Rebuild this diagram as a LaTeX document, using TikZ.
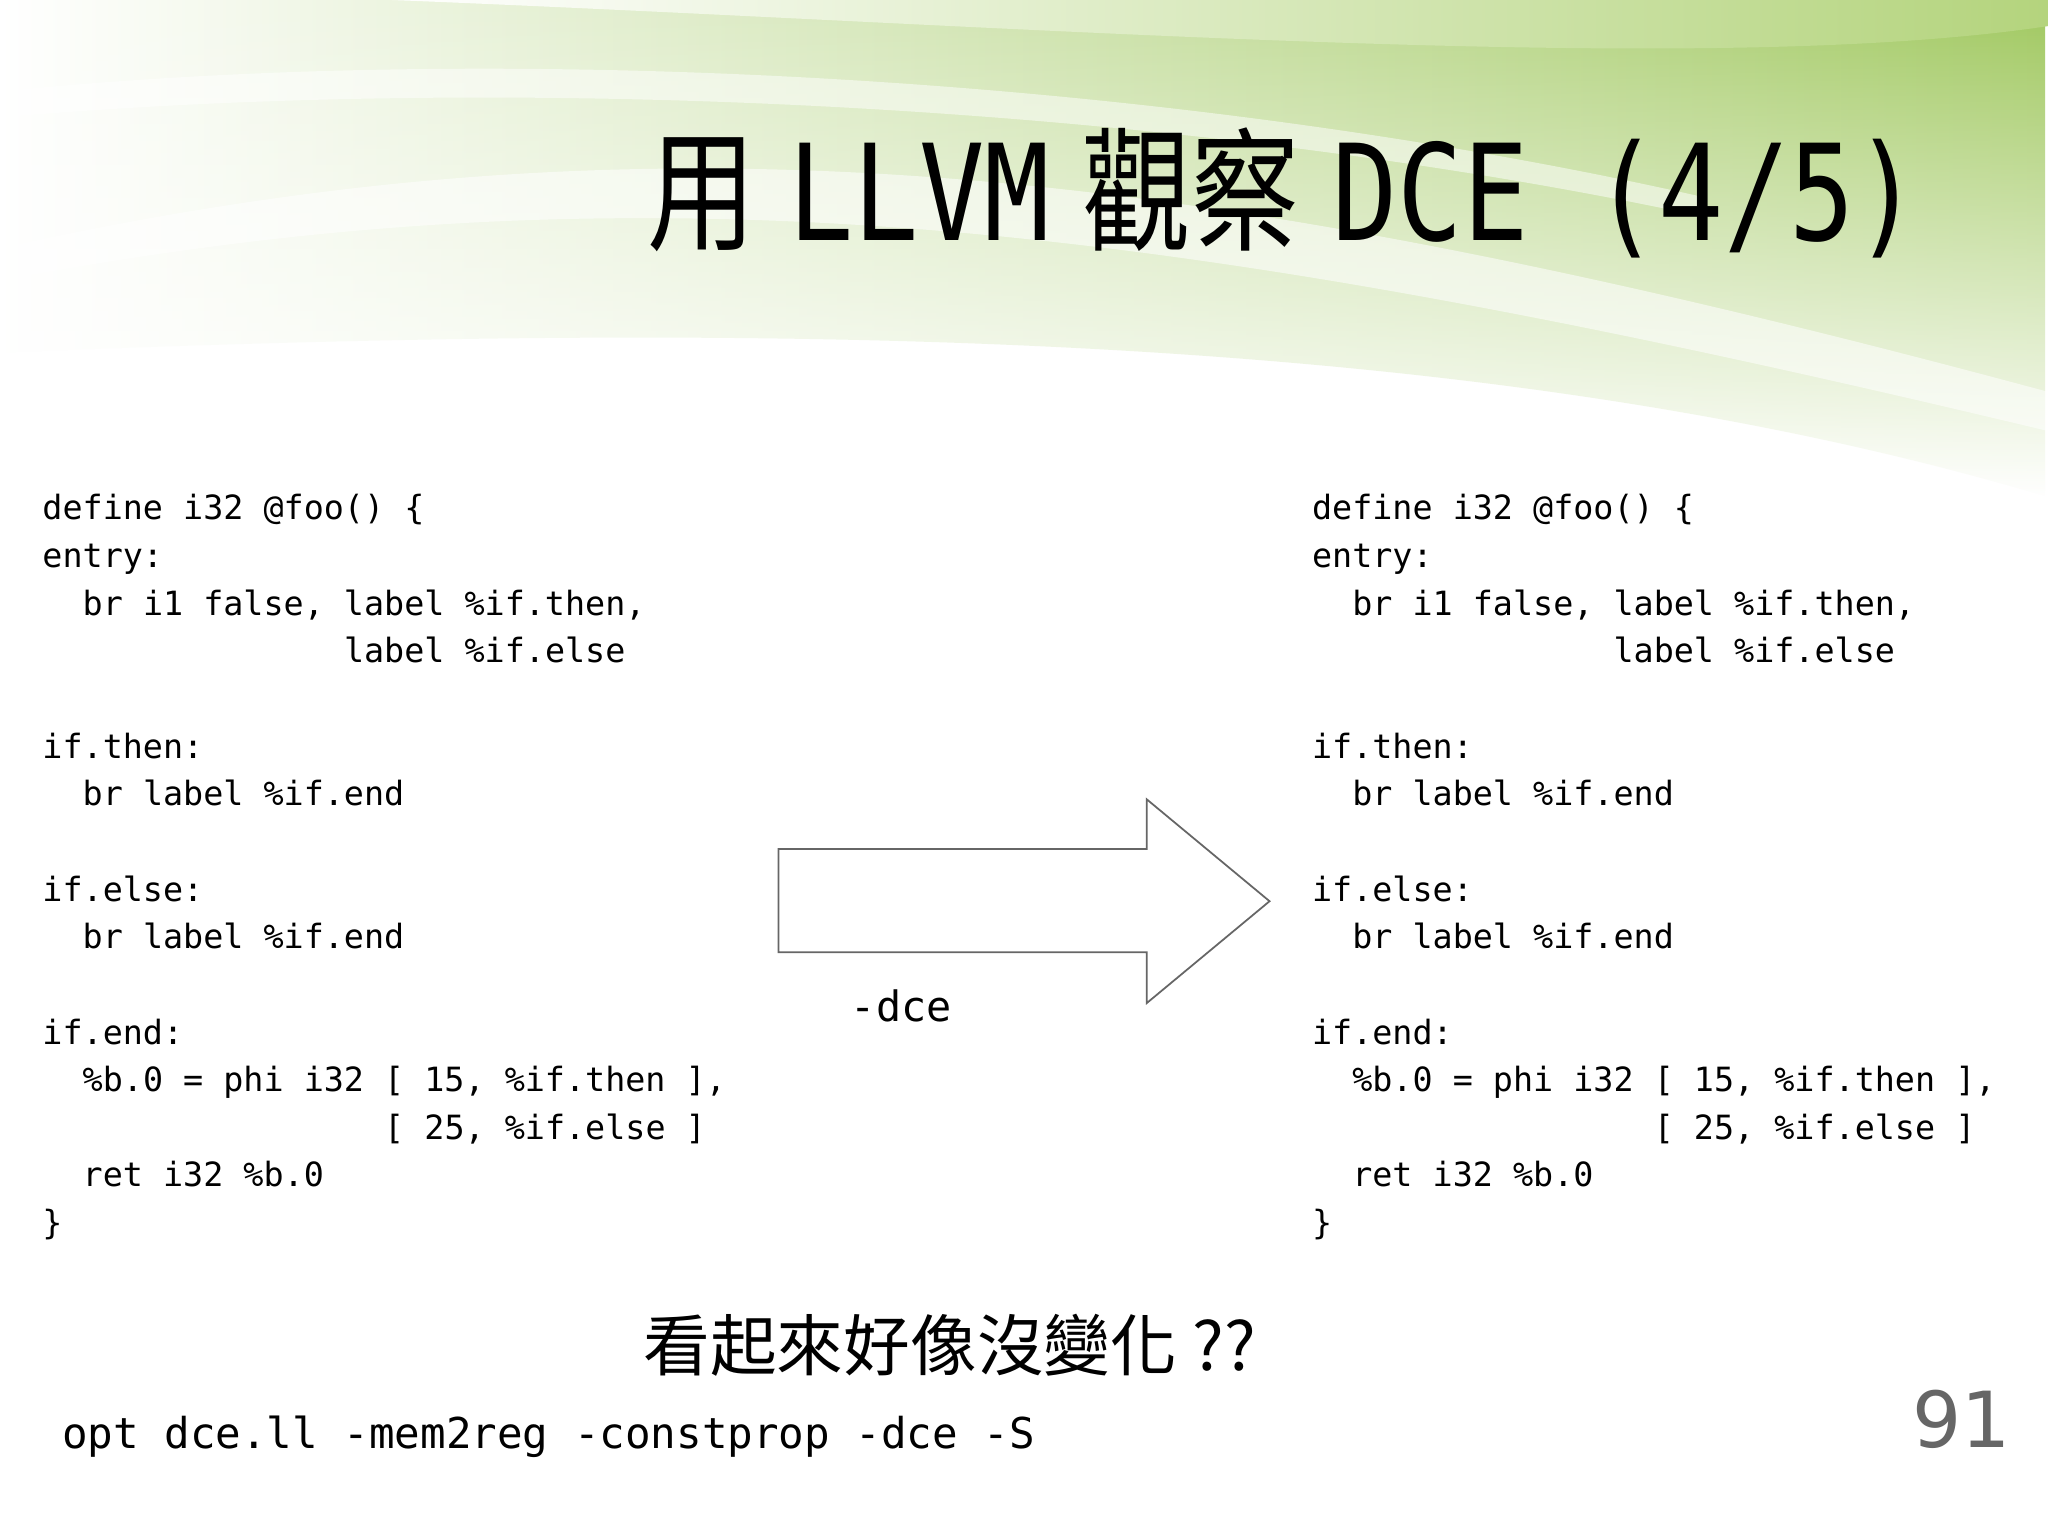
\documentclass[tikz,border=0pt]{standalone}
\usepackage{fontspec}
\usepackage{graphicx}
\setmonofont{DejaVu Sans Mono}
\newfontfamily\cjk{Noto Sans CJK TC}
\newfontfamily\dvs{DejaVu Sans}
\usetikzlibrary{fadings}
\begin{document}
\begin{tikzpicture}[x=0.013061cm,y=-0.013061cm,
  code/.style={anchor=north west,align=left,inner sep=0pt,font=\ttfamily\fontsize{9.5}{13.56}\selectfont},
  blockarrow/.style={draw=black!60,line width=0.5pt,fill=white}]
\useasboundingbox (0,0) rectangle (1568,1176);
\fill[white] (0,0) rectangle (1568,1176);
% green swoosh background
\shade[left color=white, right color={rgb,255:red,160;green,200;blue,95}, path fading=south]
  (0,0) -- (1568,0) -- (1568,380) .. controls (1100,240) and (500,250) .. (0,270) -- cycle;
\shade[left color=white, right color={rgb,255:red,180;green,212;blue,125}]
  (300,0) .. controls (800,20) and (1300,60) .. (1568,20) -- (1568,0) -- cycle;
\fill[white,opacity=0.55]
  (0,190) .. controls (500,80) and (900,120) .. (1568,300) -- (1568,330) .. controls (900,170) and (500,120) .. (0,215) -- cycle;
\fill[white,opacity=0.5]
  (0,70) .. controls (400,30) and (900,60) .. (1300,150) -- (1300,165) .. controls (900,80) and (400,55) .. (0,90) -- cycle;
% title
\node[anchor=south west,inner sep=0pt,font=\fontsize{38}{40}\selectfont] (title) at (495,198)
  {\resizebox{12.73cm}{\height}{{\cjk 用} {\ttfamily LLVM} {\cjk 觀察} {\ttfamily DCE (4/5)}}};
% code blocks
\node[code] (left) at (32,378) {define~i32~@foo()~\{\\
entry:\\
~~br~i1~false,~label~\%if.then,\\
~~~~~~~~~~~~~~~label~\%if.else\\
~\\
if.then:\\
~~br~label~\%if.end\\
~\\
if.else:\\
~~br~label~\%if.end\\
~\\
if.end:\\
~~\%b.0~=~phi~i32~[~15,~\%if.then~],\\
~~~~~~~~~~~~~~~~~[~25,~\%if.else~]\\
~~ret~i32~\%b.0\\
\}};
\node[code] (right) at (1004,378) {define~i32~@foo()~\{\\
entry:\\
~~br~i1~false,~label~\%if.then,\\
~~~~~~~~~~~~~~~label~\%if.else\\
~\\
if.then:\\
~~br~label~\%if.end\\
~\\
if.else:\\
~~br~label~\%if.end\\
~\\
if.end:\\
~~\%b.0~=~phi~i32~[~15,~\%if.then~],\\
~~~~~~~~~~~~~~~~~[~25,~\%if.else~]\\
~~ret~i32~\%b.0\\
\}};
% block arrow
\draw[blockarrow] (596,650) -- (878,650) -- (878,612) -- (972,690) -- (878,768) -- (878,729) -- (596,729) -- cycle;
\node[font=\ttfamily\fontsize{11.9}{13}\selectfont,inner sep=0pt] (dce) at (690,770) {-dce};
\node[font=\cjk\fontsize{19}{21}\selectfont,inner sep=0pt] (q) at (727,1030) {看起來好像沒變化 ??};
\node[anchor=west,font=\ttfamily\fontsize{12.1}{14}\selectfont,inner sep=0pt] (cmd) at (47,1100) {opt~dce.ll~-mem2reg~-constprop~-dce~-S};
\node[font=\dvs\fontsize{22}{24}\selectfont,text=black!60,inner sep=0pt] (pg) at (1502,1087) {91};
\end{tikzpicture}
\end{document}
